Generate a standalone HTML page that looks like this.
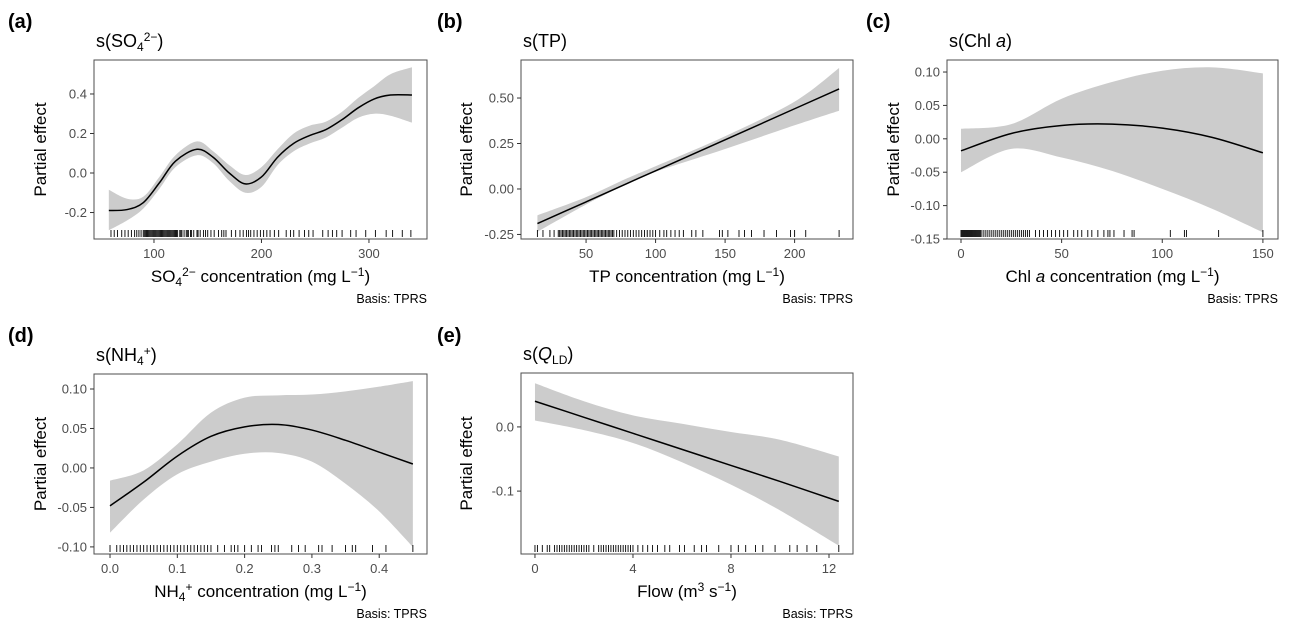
<!DOCTYPE html>
<html><head><meta charset="utf-8">
<style>
html,body{margin:0;padding:0;background:#fff;}
svg{display:block;font-family:"Liberation Sans",Arial,sans-serif;}
</style></head>
<body>
<svg id="fig" width="1292" height="630" viewBox="0 0 1292 630"></svg>
<script>
// ---------- data ----------
const aX   = [58,75,90,105,120,140,155,170,185,200,215,230,245,260,275,290,305,320,340];
const aFit = [-0.19,-0.185,-0.15,-0.05,0.06,0.12,0.08,0.0,-0.055,-0.02,0.08,0.15,0.19,0.22,0.27,0.33,0.375,0.395,0.395];
const aLo  = [-0.29,-0.24,-0.18,-0.08,0.03,0.09,0.05,-0.04,-0.10,-0.07,0.04,0.11,0.15,0.18,0.23,0.28,0.30,0.29,0.255];
const aHi  = [-0.085,-0.13,-0.12,-0.02,0.09,0.16,0.11,0.04,-0.01,0.03,0.12,0.20,0.24,0.26,0.31,0.38,0.44,0.50,0.535];
const aRug = [60,63,66,70,73,76,79,82,84,86,88,90,91,92,93,94,95,96,97,98,99,100,101,102,103,104,105,106,107,108,109,110,111,112,113,114,115,116,117,118,119,120,121,122,124,125,126,128,130,131,132,134,135,137,140,141,143,146,148,150,153,156,160,163,165,167,172,176,180,183,186,188,190,193,196,199,202,205,208,212,216,223,227,230,235,240,244,248,257,262,266,270,275,283,288,297,306,316,322,331,339];
const aXTicks = [100,200,300];
const aYTicks = [-0.2,0.0,0.2,0.4];
const aYLabels = ["-0.2","0.0","0.2","0.4"];

const bX   = [15,50,80,100,150,200,232];
const bFit = [-0.19,-0.071,0.032,0.100,0.270,0.441,0.55];
const bLo  = [-0.235,-0.085,0.03,0.095,0.22,0.35,0.43];
const bHi  = [-0.145,-0.045,0.06,0.125,0.29,0.48,0.665];
const bRug = [15,19,24,27,30,31,32,33,34,35,36,37,38,39,40,41,42,43,44,45,46,47,48,49,50,51,52,53,54,55,56,57,58,59,60,61,62,63,64,65,66,67,68,69,70,72,74,76,78,80,82,84,86,88,90,92,94,96,98,100,103,106,108,111,114,117,120,126,129,134,146,148,152,160,164,169,178,187,197,200,208,232];
const bXTicks = [50,100,150,200];
const bYTicks = [-0.25,0,0.25,0.5];
const bYLabels = ["-0.25","0.00","0.25","0.50"];

const cX   = [0,25,50,75,100,125,150];
const cFit = [-0.018,0.008,0.02,0.022,0.016,0.002,-0.021];
const cLo  = [-0.05,-0.015,-0.028,-0.048,-0.075,-0.105,-0.14];
const cHi  = [0.015,0.022,0.06,0.085,0.102,0.107,0.098];
const cRug = [0,0.5,1,1.5,2,2.5,3,3.5,4,4.5,5,5.5,6,6.5,7,7.5,8,8.5,9,9.5,10,11,12,13,14,15,16,17,18,19,20,21,22,23,24,25,26,27,28,29,30,31,32,33,34,37,39,41,43,45,47,49,51,53,56,58,60,63,65,68,71,73,74,76,81,85,86,104,111,112,128,150];
const cXTicks = [0,50,100,150];
const cYTicks = [-0.15,-0.10,-0.05,0,0.05,0.10];
const cYLabels = ["-0.15","-0.10","-0.05","0.00","0.05","0.10"];

const dX   = [0,0.05,0.1,0.15,0.2,0.25,0.3,0.35,0.4,0.45];
const dFit = [-0.048,-0.018,0.015,0.04,0.052,0.055,0.048,0.035,0.02,0.005];
const dLo  = [-0.082,-0.04,-0.008,0.008,0.018,0.019,0.008,-0.02,-0.055,-0.1];
const dHi  = [-0.016,-0.003,0.03,0.07,0.089,0.092,0.093,0.097,0.103,0.11];
const dRug = [0,0.01,0.015,0.02,0.025,0.03,0.035,0.04,0.045,0.05,0.055,0.06,0.065,0.07,0.075,0.08,0.085,0.09,0.095,0.1,0.105,0.11,0.115,0.12,0.125,0.13,0.135,0.14,0.145,0.15,0.16,0.17,0.18,0.185,0.19,0.2,0.21,0.22,0.225,0.24,0.245,0.25,0.27,0.28,0.29,0.31,0.315,0.33,0.35,0.36,0.365,0.39,0.41,0.45];
const dXTicks = [0,0.1,0.2,0.3,0.4];
const dXLabels = ["0.0","0.1","0.2","0.3","0.4"];
const dYTicks = [-0.10,-0.05,0,0.05,0.10];
const dYLabels = ["-0.10","-0.05","0.00","0.05","0.10"];

const eX   = [0,2,4,6,8,10,12.4];
const eFit = [0.04,0.015,-0.01,-0.035,-0.06,-0.085,-0.116];
const eLo  = [0.01,-0.005,-0.025,-0.055,-0.09,-0.13,-0.185];
const eHi  = [0.068,0.04,0.018,0.005,-0.008,-0.02,-0.046];
const eRug = [0,0.1,0.3,0.5,0.6,0.8,0.9,1.0,1.1,1.2,1.3,1.4,1.5,1.6,1.7,1.8,1.9,2.0,2.1,2.2,2.4,2.6,2.7,2.8,2.9,3.0,3.1,3.2,3.3,3.4,3.5,3.6,3.7,3.8,3.9,4.0,4.2,4.4,4.6,4.8,5.0,5.3,5.5,5.9,6.1,6.5,6.8,7.0,7.5,8.0,8.3,8.6,9.0,9.3,9.8,10.4,10.7,11.1,11.5,12.4];
const eXTicks = [0,4,8,12];
const eYTicks = [-0.1,0.0];
const eYLabels = ["-0.1","0.0"];

// ---------- drawing ----------
const NS="http://www.w3.org/2000/svg";
const svg=document.getElementById('fig');
function mk(tag,attrs,parent){const e=document.createElementNS(NS,tag);for(const k in attrs)e.setAttribute(k,attrs[k]);(parent||svg).appendChild(e);return e;}
function smooth(pts){
  let d="M"+pts[0][0].toFixed(2)+","+pts[0][1].toFixed(2);
  for(let i=0;i<pts.length-1;i++){
    const p0=pts[Math.max(0,i-1)],p1=pts[i],p2=pts[i+1],p3=pts[Math.min(pts.length-1,i+2)];
    const c1=[p1[0]+(p2[0]-p0[0])/6,p1[1]+(p2[1]-p0[1])/6];
    const c2=[p2[0]-(p3[0]-p1[0])/6,p2[1]-(p3[1]-p1[1])/6];
    d+=" C"+c1.map(v=>v.toFixed(2))+" "+c2.map(v=>v.toFixed(2))+" "+p2[0].toFixed(2)+","+p2[1].toFixed(2);
  }
  return d;
}
function panel(p){
  const g=mk('g',{});
  
  
  const sx=v=>p.box[0]+(v-p.xd[0])/(p.xd[1]-p.xd[0])*(p.box[2]-p.box[0]);
  const sy=v=>p.box[3]-(v-p.yd[0])/(p.yd[1]-p.yd[0])*(p.box[3]-p.box[1]);
  const [L,T,R,B]=p.box;
  const lt=mk('text',{x:p.lx,y:p.ly,'font-size':20,'font-weight':'bold',fill:'#000'},g);
  lt.textContent='('+p.id+')';
  
  
  const tt=mk('text',{x:L+2,y:T-13,'font-size':18,fill:'#000'},g);
  tt.innerHTML=p.title;
  
  
  const up=p.xs.map((x,i)=>[sx(x),sy(p.hi[i])]);
  const dn=p.xs.map((x,i)=>[sx(x),sy(p.lo[i])]).reverse();
  let bd=smooth(up)+" L"+dn[0][0]+","+dn[0][1]+" "+smooth(dn).slice(1)+" Z";
  const band=mk('path',{d:bd,fill:'#cccccc',stroke:'none'},g);
  
  
  const line=mk('path',{d:smooth(p.xs.map((x,i)=>[sx(x),sy(p.fit[i])])),fill:'none',stroke:'#000','stroke-width':1.5},g);
  
  
  p.rug.forEach(v=>{
    const r=mk('line',{x1:sx(v),x2:sx(v),y1:B-9,y2:B-2,stroke:'#000','stroke-width':0.9},g);
    
    
  });
  const bx=mk('rect',{x:L,y:T,width:R-L,height:B-T,fill:'none',stroke:'#4d4d4d','stroke-width':1},g);
  
  
  p.xt.forEach((v,i)=>{
    const x=sx(v);
    mk('line',{x1:x,x2:x,y1:B,y2:B+4,stroke:'#333','stroke-width':1},g);
    const t=mk('text',{x:x,y:B+19,'font-size':13,fill:'#4d4d4d','text-anchor':'middle'},g);
    t.textContent=p.xl?p.xl[i]:String(v);
    
    
  });
  p.yt.forEach((v,i)=>{
    const y=sy(v);
    mk('line',{x1:L-4,x2:L,y1:y,y2:y,stroke:'#333','stroke-width':1},g);
    const t=mk('text',{x:L-7,y:y+4.5,'font-size':13,fill:'#4d4d4d','text-anchor':'end'},g);
    t.textContent=p.yl[i];
    
    
  });
  const xt=mk('text',{x:(L+R)/2,y:B+43,'font-size':17,fill:'#000','text-anchor':'middle'},g);
  xt.innerHTML=p.xtitle;
  
  
  const cy=(T+B)/2;
  const yt=mk('text',{x:p.yx,y:cy,'font-size':17,fill:'#000','text-anchor':'middle',transform:'rotate(-90 '+p.yx+' '+cy+')'},g);
  yt.textContent='Partial effect';
  
  
  const cap=mk('text',{x:R,y:B+64,'font-size':12.5,fill:'#000','text-anchor':'end'},g);
  cap.textContent='Basis: TPRS';
  
  
}
const sub=(s)=>'<tspan font-size="12" dy="4">'+s+'</tspan>';
const sup2=(s)=>'<tspan font-size="12" dy="-10">'+s+'</tspan>';
const sup=(s,d)=>'<tspan font-size="12" dy="'+d+'">'+s+'</tspan>';
panel({id:'a',lx:8,ly:28,box:[94,60,427,239],xd:[44.2,354],yd:[-0.334,0.572],xs:aX,fit:aFit,lo:aLo,hi:aHi,rug:aRug,xt:aXTicks,yt:aYTicks,yl:aYLabels,yx:46,
 title:'s(SO'+sub('4')+sup2('2−')+'<tspan dy="6">)</tspan>',
 xtitle:'SO'+sub('4')+sup2('2−')+'<tspan dy="6"> concentration (mg L</tspan>'+sup('−1',-6)+'<tspan dy="6">)</tspan>'});
panel({id:'b',lx:437,ly:28,box:[521,60,853,239],xd:[3.2,242],yd:[-0.275,0.709],xs:bX,fit:bFit,lo:bLo,hi:bHi,rug:bRug,xt:bXTicks,yt:bYTicks,yl:bYLabels,yx:472,
 title:'s(TP)',
 xtitle:'TP concentration (mg L'+sup('−1',-6)+'<tspan dy="6">)</tspan>'});
panel({id:'c',lx:866,ly:28,box:[947,60,1278,239],xd:[-6.95,157.5],yd:[-0.150,0.118],xs:cX,fit:cFit,lo:cLo,hi:cHi,rug:cRug,xt:cXTicks,yt:cYTicks,yl:cYLabels,yx:899,
 title:'s(Chl <tspan font-style="italic">a</tspan>)',
 xtitle:'Chl <tspan font-style="italic">a</tspan> concentration (mg L'+sup('−1',-6)+'<tspan dy="6">)</tspan>'});
panel({id:'d',lx:8,ly:342,box:[94,374,427,554],xd:[-0.0238,0.471],yd:[-0.109,0.119],xs:dX,fit:dFit,lo:dLo,hi:dHi,rug:dRug,xt:dXTicks,xl:dXLabels,yt:dYTicks,yl:dYLabels,yx:46,
 title:'s(NH'+sub('4')+sup2('+')+'<tspan dy="6">)</tspan>',
 xtitle:'NH'+sub('4')+sup2('+')+'<tspan dy="6"> concentration (mg L</tspan>'+sup('−1',-6)+'<tspan dy="6">)</tspan>'});
panel({id:'e',lx:437,ly:342,box:[521,373,853,554],xd:[-0.57,12.98],yd:[-0.198,0.084],xs:eX,fit:eFit,lo:eLo,hi:eHi,rug:eRug,xt:eXTicks,yt:eYTicks,yl:eYLabels,yx:472,
 title:'s(<tspan font-style="italic">Q</tspan>'+sub('LD')+'<tspan dy="-4">)</tspan>',
 xtitle:'Flow (m'+sup('3',-6)+'<tspan dy="6"> s</tspan>'+sup('−1',-6)+'<tspan dy="6">)</tspan>'});
</script>
</body></html>
